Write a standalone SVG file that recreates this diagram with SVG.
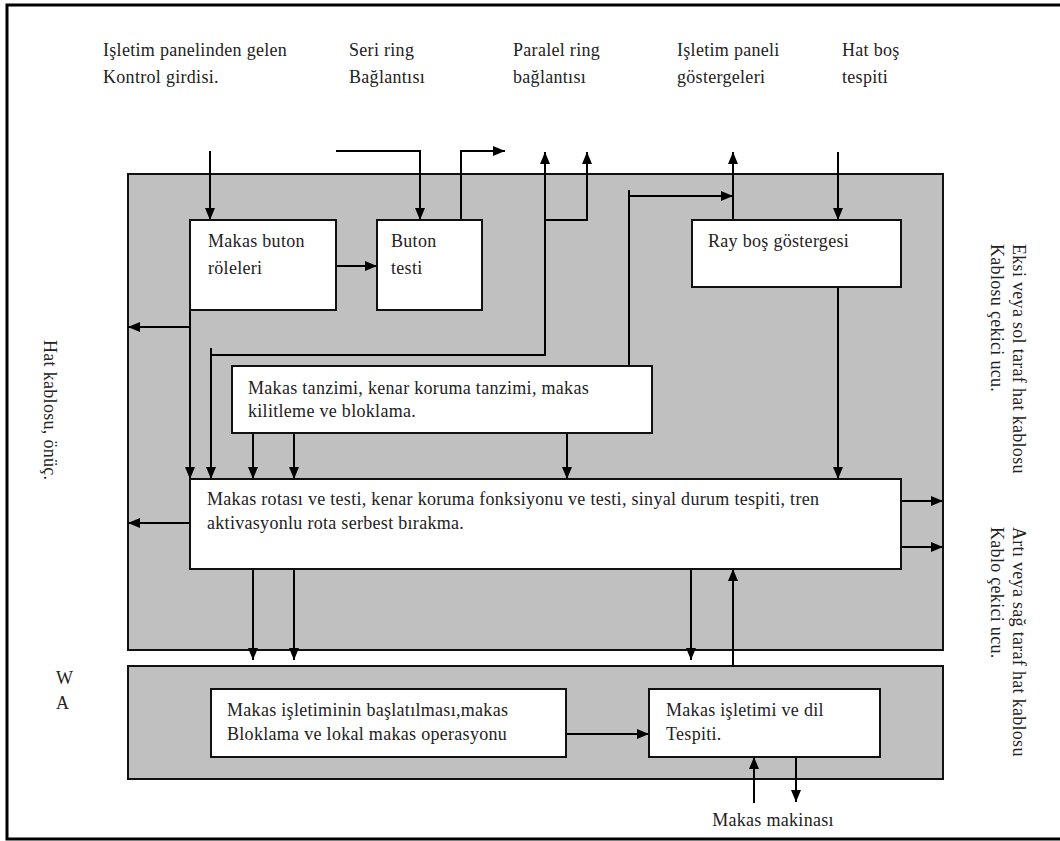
<svg xmlns="http://www.w3.org/2000/svg" width="1060" height="841" viewBox="0 0 1060 841">
  <style>
    .frame { fill: none; stroke: #000; stroke-width: 3; }
    .panel { fill: #c0c0c0; stroke: #111; stroke-width: 2; }
    .box { fill: #fff; stroke: #111; stroke-width: 2; }
    .wire { fill: none; stroke: #000; stroke-width: 2; }
    .arr { marker-end: url(#head); }
    .t { font-family: 'Liberation Serif', 'DejaVu Serif', serif; font-size: 18px; letter-spacing: 0.3px; fill: #222; }
  </style>
  <defs>
    <marker id="head" markerUnits="userSpaceOnUse" markerWidth="12" markerHeight="10" refX="12" refY="5" orient="auto">
      <path d="M0,0 L12,5 L0,10 z" fill="#000"/>
    </marker>
  </defs>

  <rect width="1060" height="841" fill="#fff"/>
  <!-- page frame, open on the right -->
  <path class="frame" d="M1060,5 H7 V839 H1060"/>

  <!-- top labels -->
  <g id="lbl-kontrol" class="t"><text x="103" y="56">Işletim panelinden gelen</text><text x="103" y="83">Kontrol girdisi.</text></g>
  <g id="lbl-seri" class="t"><text x="349" y="56">Seri ring</text><text x="349" y="83">Bağlantısı</text></g>
  <g id="lbl-paralel" class="t"><text x="513" y="56">Paralel ring</text><text x="513" y="83">bağlantısı</text></g>
  <g id="lbl-gosterge" class="t"><text x="677" y="56">Işletim paneli</text><text x="677" y="83">göstergeleri</text></g>
  <g id="lbl-hatbos" class="t"><text x="842" y="56">Hat boş</text><text x="842" y="83">tespiti</text></g>

  <!-- side labels, written top to bottom -->
  <g id="lbl-onuc" class="t"><text transform="translate(44,340) rotate(90)">Hat kablosu, önüç.</text></g>
  <g id="lbl-eksi" class="t">
    <text transform="translate(1013,244) rotate(90)">Eksi veya sol taraf hat kablosu</text>
    <text transform="translate(991,244) rotate(90)">Kablosu çekici ucu.</text>
  </g>
  <g id="lbl-arti" class="t">
    <text transform="translate(1013,527) rotate(90)">Artı veya sağ taraf hat kablosu</text>
    <text transform="translate(991,527) rotate(90)">Kablo çekici ucu.</text>
  </g>
  <g id="lbl-wa" class="t"><text x="56" y="684">W</text><text x="56" y="709">A</text></g>
  <g id="lbl-makina" class="t"><text x="773" y="826" text-anchor="middle">Makas makinası</text></g>

  <!-- grey panels -->
  <g id="panel-upper"><rect class="panel" x="128" y="174" width="815" height="476"/></g>
  <g id="panel-lower"><rect class="panel" x="128" y="666" width="815" height="113"/></g>

  <!-- connectors -->
  <g id="connectors">
    <path class="wire arr" d="M210,151 V220"/>
    <path class="wire arr" d="M336,151 H420 V220"/>
    <path class="wire arr" d="M461,220 V151 H505"/>
    <path class="wire arr" d="M336,266 H377"/>
    <path class="wire arr" d="M190,310 V479"/>
    <path class="wire arr" d="M190,327 H128"/>
    <path class="wire arr" d="M211,348 V479"/>
    <path class="wire arr" d="M211,355 H545 V152"/>
    <path class="wire arr" d="M545,220 H587 V152"/>
    <path class="wire" d="M629,190 V366"/>
    <path class="wire arr" d="M629,196 H733"/>
    <path class="wire arr" d="M733,220 V152"/>
    <path class="wire arr" d="M838,152 V220"/>
    <path class="wire arr" d="M838,287 V479"/>
    <path class="wire arr" d="M253,433 V479"/>
    <path class="wire arr" d="M294,433 V479"/>
    <path class="wire arr" d="M567,433 V479"/>
    <path class="wire arr" d="M190,523 H128"/>
    <path class="wire arr" d="M901,501 H943"/>
    <path class="wire arr" d="M901,547 H943"/>
    <path class="wire arr" d="M253,569 V660"/>
    <path class="wire arr" d="M294,569 V660"/>
    <path class="wire arr" d="M691,569 V660"/>
    <path class="wire arr" d="M733,666 V569"/>
    <path class="wire arr" d="M566,734 H649"/>
    <path class="wire arr" d="M754,803 V757"/>
    <path class="wire arr" d="M796,757 V802"/>
  </g>

  <!-- function blocks -->
  <g id="n-roleler" class="t">
    <rect class="box" x="190" y="220" width="146" height="90"/>
    <text x="208" y="247">Makas buton</text><text x="208" y="274">röleleri</text>
  </g>
  <g id="n-butontesti" class="t">
    <rect class="box" x="377" y="220" width="105" height="90"/>
    <text x="391" y="247">Buton</text><text x="391" y="274">testi</text>
  </g>
  <g id="n-raybos" class="t">
    <rect class="box" x="692" y="220" width="209" height="67"/>
    <text x="708" y="247">Ray boş göstergesi</text>
  </g>
  <g id="n-tanzim" class="t">
    <rect class="box" x="232" y="366" width="420" height="67"/>
    <text x="248" y="394">Makas tanzimi, kenar koruma tanzimi, makas</text>
    <text x="248" y="417">kilitleme ve bloklama.</text>
  </g>
  <g id="n-rota" class="t">
    <rect class="box" x="190" y="479" width="711" height="90"/>
    <text x="207" y="505">Makas rotası ve testi, kenar koruma fonksiyonu ve testi, sinyal durum tespiti, tren</text>
    <text x="207" y="529">aktivasyonlu rota serbest bırakma.</text>
  </g>
  <g id="n-baslatma" class="t">
    <rect class="box" x="211" y="689" width="355" height="68"/>
    <text x="227" y="716">Makas işletiminin başlatılması,makas</text>
    <text x="227" y="740">Bloklama ve lokal makas operasyonu</text>
  </g>
  <g id="n-isletim" class="t">
    <rect class="box" x="649" y="689" width="231" height="68"/>
    <text x="666" y="716">Makas işletimi ve dil</text>
    <text x="666" y="740">Tespiti.</text>
  </g>
</svg>
